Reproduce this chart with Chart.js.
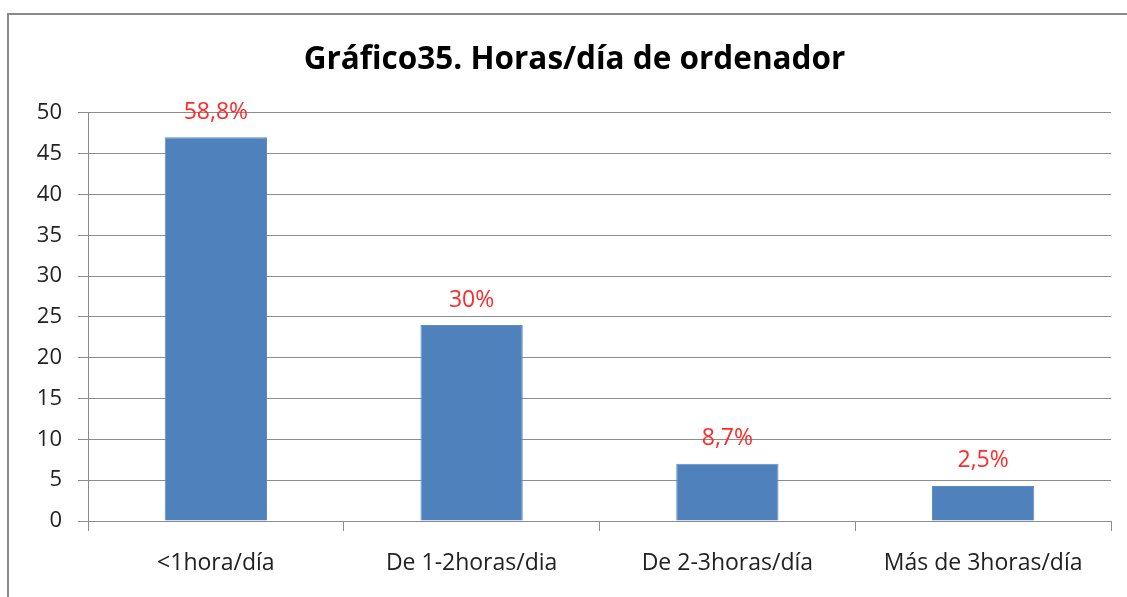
<!DOCTYPE html>
<html>
<head>
<meta charset="utf-8">
<script src="https://cdn.jsdelivr.net/npm/chart.js@4.4.1/dist/chart.umd.min.js"></script>
<style>
  html, body { margin: 0; padding: 0; background: #fff; }
  #wrap { width: 1127px; height: 597px; position: relative; }
</style>
</head>
<body>
<div id="wrap"><canvas id="chart" width="1127" height="597"></canvas></div>
<script>
// datos del gráfico
const categories = ['<1hora/día', 'De 1-2horas/dia', 'De 2-3horas/día', 'Más de 3horas/día'];
const values = [47, 24, 7, 4.3];
const pctLabels = ['58,8%', '30%', '8,7%', '2,5%'];
const yTicks = [0, 5, 10, 15, 20, 25, 30, 35, 40, 45, 50];

const FONT = '"Open Sans", Lato, sans-serif';
const GRID = '#8c8c8c';

// marco exterior (recortado a la derecha y abajo)
const framePlugin = {
  id: 'frame',
  beforeDraw(chart) {
    const c = chart.ctx;
    c.save();
    c.fillStyle = '#fff';
    c.fillRect(0, 0, chart.width, chart.height);
    c.strokeStyle = '#8a8a8a';
    c.lineWidth = 2;
    c.strokeRect(8, 14, 1300, 800);
    c.restore();
  },
  // el gráfico original sigue más allá del borde derecho: desplazar el título
  afterLayout(chart) {
    if (chart.titleBlock) {
      chart.titleBlock.left += 19;
      chart.titleBlock.right += 19;
    }
  }
};

// etiquetas rojas encima de cada barra
const pctPlugin = {
  id: 'pct',
  afterDatasetsDraw(chart) {
    const c = chart.ctx;
    const meta = chart.getDatasetMeta(0);
    c.save();
    c.font = '23px ' + FONT;
    c.fillStyle = '#ff2a2a';
    c.textAlign = 'center';
    c.textBaseline = 'middle';
    meta.data.forEach((bar, i) => {
      c.fillText(pctLabels[i], bar.x, bar.y - 25);
    });
    c.restore();
  }
};

new Chart(document.getElementById('chart'), {
  type: 'bar',
  data: {
    labels: categories,
    datasets: [{
      data: values,
      backgroundColor: '#4f81bd',
      borderColor: '#5b8cc6',
      borderWidth: 1,
      categoryPercentage: 1,
      barPercentage: 0.4
    }]
  },
  options: {
    responsive: false,
    animation: false,
    layout: { padding: { left: 0, right: 16, top: 0, bottom: 0 } },
    plugins: {
      legend: { display: false },
      tooltip: { enabled: false },
      title: {
        display: true,
        text: 'Gráfico35. Horas/día de ordenador',
        color: '#000',
        font: { family: FONT, size: 31.5, weight: 'bold' },
        padding: { top: 41, bottom: 34 }
      }
    },
    scales: {
      y: {
        min: 0, max: 50,
        afterBuildTicks(scale) { scale.ticks = yTicks.map(v => ({ value: v })); },
        afterFit(scale) { scale.width = 88; },
        ticks: { color: '#222', font: { family: FONT, size: 22 }, padding: 16 },
        grid: { color: GRID, lineWidth: 1, tickLength: 10, drawTicks: true },
        border: { color: GRID, width: 1 }
      },
      x: {
        afterFit(scale) { scale.height = 76; },
        ticks: { color: '#222', font: { family: FONT, size: 23 }, padding: 19 },
        grid: { display: true, offset: true, drawOnChartArea: false, color: GRID, tickLength: 10 },
        border: { color: GRID, width: 1 }
      }
    }
  },
  plugins: [framePlugin, pctPlugin]
});
</script>
</body>
</html>
